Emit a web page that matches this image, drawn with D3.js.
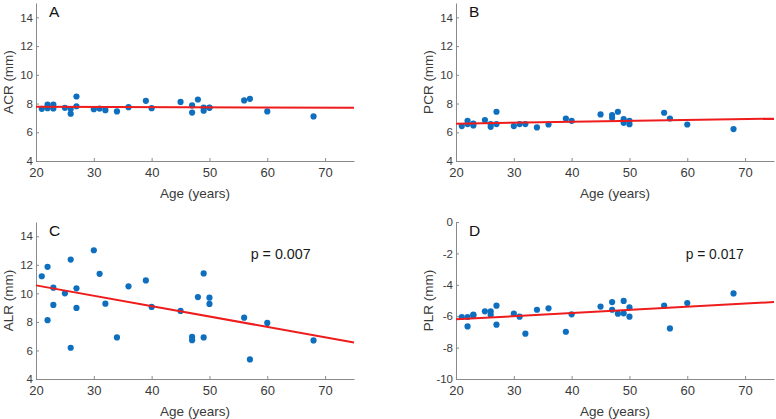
<!DOCTYPE html>
<html><head><meta charset="utf-8">
<script src="https://cdn.jsdelivr.net/npm/d3@7"></script>
<style>
html,body{margin:0;padding:0;background:#fff;}
svg{display:block;font-family:"Liberation Sans",Arial,sans-serif;}
</style></head>
<body>
<svg id="chart" width="776" height="419"></svg>
<script>
// ---- data ----
const ages = [21,22,22,23,23,25,26,26,27,27,30,31,32,34,36,39,40,45,47,47,48,49,49,50,50,56,57,60,68];
const acr  = [7.63,7.92,7.68,7.92,7.66,7.70,7.62,7.29,8.49,7.81,7.61,7.65,7.54,7.45,7.75,8.19,7.68,8.11,7.87,7.37,8.28,7.71,7.50,7.72,7.70,8.22,8.33,7.45,7.10];
const pcr  = [6.43,6.80,6.57,6.61,6.47,6.85,6.57,6.38,7.43,6.57,6.43,6.57,6.57,6.34,6.54,6.96,6.80,7.24,7.20,7.01,7.43,6.91,6.66,6.79,6.56,7.36,6.96,6.54,6.22];
const alr  = [11.20,11.86,8.12,10.40,9.19,10.00,12.37,6.19,10.35,8.98,13.02,11.37,9.28,6.91,10.49,10.91,9.05,8.77,6.95,6.72,9.74,11.40,6.91,9.70,9.26,8.30,5.37,7.93,6.70];
const plr  = [-6.05,-6.05,-6.65,-5.90,-5.95,-5.69,-5.69,-5.90,-5.33,-6.54,-5.84,-6.03,-7.11,-5.59,-5.50,-6.99,-5.88,-5.39,-5.10,-5.59,-5.84,-5.03,-5.82,-5.44,-6.03,-5.33,-6.78,-5.16,-4.55];

// regression lines (endpoints)
const fitX = [20, 75];
const fitACR = [7.77, 7.70];
const fitPCR = [6.60, 6.95];
const fitALR = [10.56, 6.56];
const fitPLR = [-6.20, -5.10];

const xTicks = [20,30,40,50,60,70];
const yTicksPos = [4,6,8,10,12,14];
const yTicksNeg = [0,-2,-4,-6,-8,-10];

const panelLetters = ["A","B","C","D"];
const yLabels = ["ACR (mm)","PCR (mm)","ALR (mm)","PLR (mm)"];
const pTexts = [null, null, "p = 0.007", "p = 0.017"];

// ---- layout ----
const svg = d3.select("#chart");
const boxes = [
  {x0:36, x1:354, y0:3,   y1:161},
  {x0:456,x1:774, y0:3,   y1:161},
  {x0:36, x1:354, y0:222, y1:379},
  {x0:456,x1:774, y0:222, y1:379}
];
const panels = [
  {vals:acr, fit:fitACR, ydom:[4,15], yt:yTicksPos},
  {vals:pcr, fit:fitPCR, ydom:[4,15], yt:yTicksPos},
  {vals:alr, fit:fitALR, ydom:[4,15], yt:yTicksPos},
  {vals:plr, fit:fitPLR, ydom:[-10,0], yt:yTicksNeg}
];
const axisCol = "#8a8a8a", textCol = "#3a3a3a";
const fmt = d => String(d);

panels.forEach((p,i)=>{
  const b = boxes[i];
  const x = d3.scaleLinear().domain([20,75]).range([b.x0,b.x1]);
  const y = d3.scaleLinear().domain(p.ydom).range([b.y1,b.y0]);
  const g = svg.append("g");

  const xa = g.append("g").attr("transform",`translate(0,${b.y1})`)
    .call(d3.axisBottom(x).tickValues(xTicks).tickFormat(fmt).tickSizeInner(-3).tickSizeOuter(0).tickPadding(7));
  const ya = g.append("g").attr("transform",`translate(${b.x0},0)`)
    .call(d3.axisLeft(y).tickValues(p.yt).tickFormat(fmt).tickSizeInner(-3).tickSizeOuter(0).tickPadding(3));
  [xa,ya].forEach(a=>{
    a.select(".domain").attr("stroke",axisCol).attr("stroke-width",1);
    a.selectAll(".tick line").attr("stroke",axisCol);
    a.selectAll(".tick text").attr("fill",textCol).attr("font-family",'"Liberation Sans",Arial,sans-serif');
  });
  xa.selectAll(".tick text").attr("font-size",13);
  ya.selectAll(".tick text").attr("font-size",11.5);

  // labels
  g.append("text").attr("x",(b.x0+b.x1)/2).attr("y",b.y1+37)
    .attr("text-anchor","middle").attr("font-size",13.5).attr("fill",textCol).text("Age (years)");
  g.append("text").attr("transform",`translate(${b.x0-23},${(b.y0+b.y1)/2}) rotate(-90)`)
    .attr("text-anchor","middle").attr("font-size",13.5).attr("fill",textCol).text(yLabels[i]);
  g.append("text").attr("x",b.x0+13).attr("y",b.y0+13.5)
    .attr("font-size",15.5).attr("fill","#111").text(panelLetters[i]);
  if(pTexts[i]){
    g.append("text").attr("x",b.x0 + (i===2?214.7:229.7)).attr("y",b.y0+37)
      .attr("font-size",15.5).attr("fill","#1a1a1a")
      .attr("textLength",i===2?60:58).attr("lengthAdjust","spacingAndGlyphs")
      .text(pTexts[i]);
  }

  // points
  g.selectAll("circle").data(ages.map((a,k)=>[a,p.vals[k]])).enter().append("circle")
    .attr("cx",d=>x(d[0])).attr("cy",d=>y(d[1])).attr("r",3.1).attr("fill","#0f6fbf");

  // fit line
  const line = d3.line().x(d=>x(d[0])).y(d=>y(d[1]));
  g.append("path").datum(fitX.map((fx,k)=>[fx,p.fit[k]])).attr("d",line)
    .attr("fill","none").attr("stroke","#ee1c1c").attr("stroke-width",2);
});
</script>
</body></html>
